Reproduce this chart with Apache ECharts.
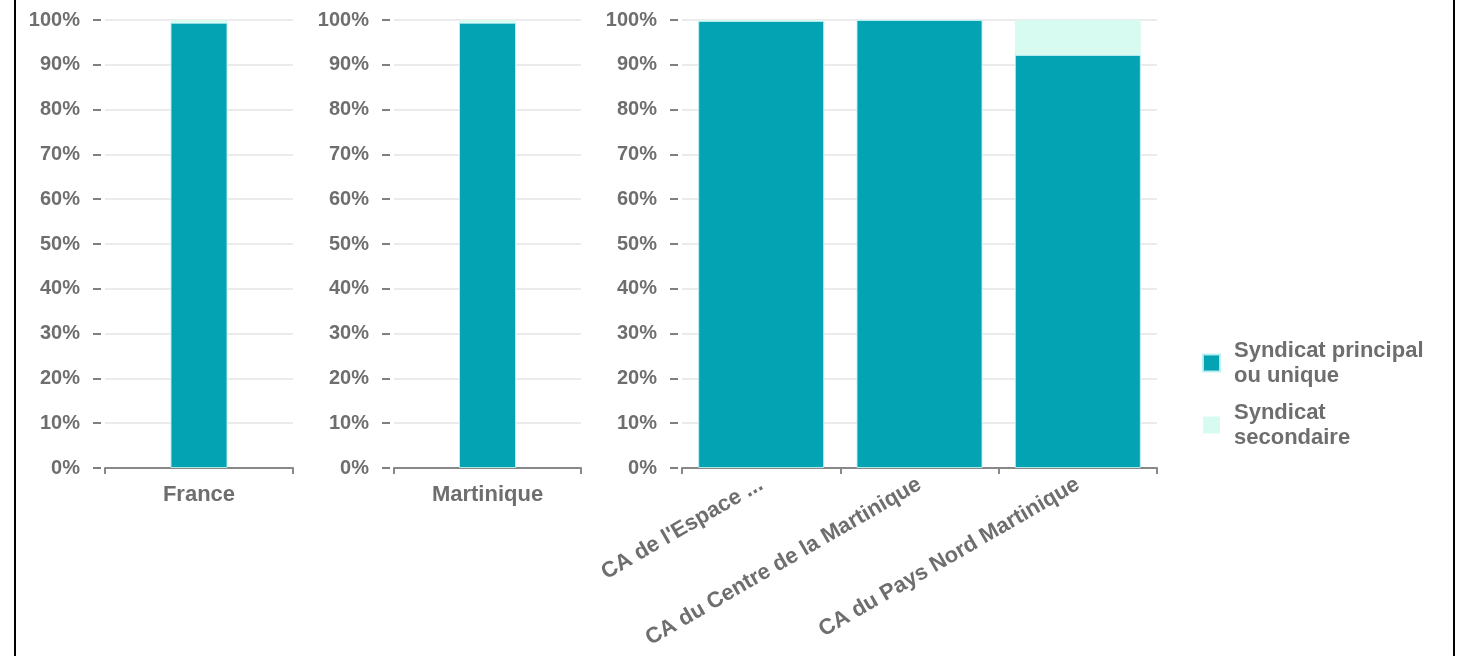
<!DOCTYPE html>
<html>
<head>
<meta charset="utf-8">
<script src="https://cdn.jsdelivr.net/npm/echarts@6/dist/echarts.min.js"></script>
<style>
  body{margin:0;background:#fff;}
  #frame{position:absolute;left:14px;top:0;width:1437px;height:656px;border-left:2px solid #000;border-right:2px solid #000;}
  #main{position:absolute;left:0;top:0;width:1463px;height:656px;}
</style>
</head>
<body>
<div id="main"></div>
<div id="frame"></div>
<script>
// categories
const franceCats = ['France']
const regionCats = ['Martinique']
const epciCats = ["CA de l'Espace ...", 'CA du Centre de la Martinique', 'CA du Pays Nord Martinique']

// series values (%)
const franceMain = [99.4]
const franceSecond = [0.6]
const regionMain = [99.4]
const regionSecond = [0.6]
const epciMain = [99.8, 100, 92.2]
const epciSecond = [0.2, 0, 7.8]

const seriesNames = ['Syndicat principal ou unique', 'Syndicat secondaire']
const legendLabels = ['Syndicat principal\nou unique', 'Syndicat\nsecondaire']

const colMain = '#03a3b4'
const colSecond = '#d7fbf0'
const textCol = '#6e6e6e'

let myChart = echarts.init(document.getElementById('main'))

let grids = [
  {left: 105, top: 20, width: 188, height: 448},
  {left: 394, top: 20, width: 187, height: 448},
  {left: 682, top: 20, width: 475, height: 448}
]

function yAxisFor(i){
  return {
    type: 'value', gridIndex: i, min: 0, max: 100, interval: 10, offset: 4,
    axisLine: {show: false},
    axisTick: {show: true, length: 8, lineStyle: {color: '#808080', width: 2}},
    axisLabel: {formatter: '{value}%', margin: 21, color: textCol, fontSize: 20, fontWeight: 'bold', fontFamily: 'Liberation Sans'},
    splitLine: {show: true, lineStyle: {color: '#ebebeb', width: 2}}
  }
}

function xAxisFor(i, cats, rotate){
  return {
    type: 'category', gridIndex: i, data: cats,
    axisLine: {lineStyle: {color: '#888', width: 2}},
    axisTick: {show: true, length: 6, lineStyle: {color: '#888', width: 2}},
    axisLabel: {
      interval: 0, rotate: rotate, margin: rotate ? 15 : 16,
      color: textCol, fontSize: 22, fontWeight: 'bold', fontFamily: 'Liberation Sans'
    }
  }
}

function barPair(i, mainVals, secondVals, width){
  return [
    {name: seriesNames[0], type: 'bar', stack: 's' + i, xAxisIndex: i, yAxisIndex: i, barWidth: width,
     data: mainVals, itemStyle: {color: colMain, borderColor: 'rgba(190,240,242,0.9)', borderWidth: 1}},
    {name: seriesNames[1], type: 'bar', stack: 's' + i, xAxisIndex: i, yAxisIndex: i, barWidth: width,
     data: secondVals, itemStyle: {color: colSecond}}
  ]
}

myChart.setOption({
  animation: false,
  grid: grids,
  xAxis: [xAxisFor(0, franceCats, 0), xAxisFor(1, regionCats, 0), xAxisFor(2, epciCats, 30)],
  yAxis: [yAxisFor(0), yAxisFor(1), yAxisFor(2)],
  legend: {
    orient: 'vertical', left: 1197, top: 333,
    data: seriesNames,
    icon: 'rect', itemWidth: 17, itemHeight: 17, itemGap: 12,
    formatter: function(name){ return legendLabels[seriesNames.indexOf(name)] },
    textStyle: {color: textCol, fontSize: 22, fontWeight: 'bold', fontFamily: 'Liberation Sans', lineHeight: 25, padding: [0, 0, 0, 9]}
  },
  series: [].concat(
    barPair(0, franceMain, franceSecond, 57),
    barPair(1, regionMain, regionSecond, 57),
    barPair(2, epciMain, epciSecond, 126)
  )
})
</script>
</body>
</html>
